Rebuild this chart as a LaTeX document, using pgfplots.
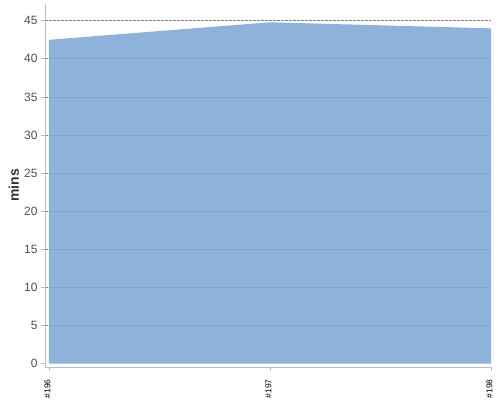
\documentclass[border=0pt]{standalone}
\usepackage{pgfplots}
\pgfplotsset{compat=1.18}
\usepackage{fontspec}
\setmainfont{Liberation Sans}
\definecolor{areafill}{RGB}{128,167,213}
\definecolor{axgray}{RGB}{190,190,190}
\definecolor{tickgray}{RGB}{80,80,80}
\definecolor{gridgray}{RGB}{125,125,125}
\begin{document}
\begin{tikzpicture}
\path[use as bounding box] (0pt,0pt) rectangle (500pt,400pt);
\begin{axis}[
  at={(45pt,33pt)}, anchor=south west,
  scale only axis, width=446pt, height=363pt,
  xmin=-0.018, xmax=2,
  ymin=-0.45, ymax=47.2,
  axis x line*=bottom, axis y line*=left,
  axis line style={axgray, line width=1pt, -},
  xtick={0,1,2},
  xticklabels={\#196,\#197,\#198},
  x tick label style={yshift=-5pt, xshift=-1.5pt, rotate=90, anchor=east, font=\fontsize{8.5}{8.5}\selectfont, text=black},
  ytick={5,10,...,45},
  extra y ticks={0},
  extra y tick style={grid=none},
  y tick label style={font=\fontsize{12}{12}\selectfont, text=tickgray},
  /pgf/number format/assume math mode=true,
  tick align=outside,
  major tick length=4pt,
  tick style={axgray, line width=0.8pt},
  ymajorgrids,
  grid style={gridgray, line width=0.7pt, dash pattern=on 2.5pt off 1.5pt},
  ylabel={\bfseries mins},
  ylabel style={font=\fontsize{14}{14}\selectfont, text=black!80, anchor=center, at={(axis description cs:-0.07,0.5)}},
]
\addplot[fill=areafill, fill opacity=0.88, draw=none] coordinates {
  (0,42.5) (1,44.8) (2,44.0)
} \closedcycle;
\end{axis}
\end{tikzpicture}
\end{document}
